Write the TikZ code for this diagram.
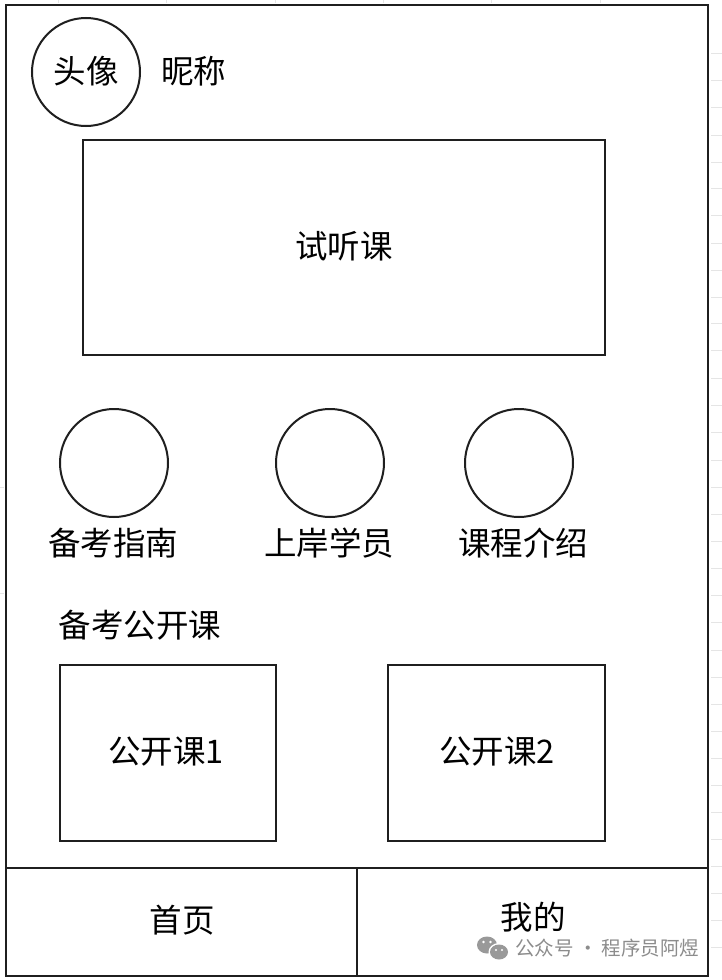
\documentclass[tikz,border=0pt]{standalone}
\usepackage{fontspec}
\setmainfont{Noto Sans CJK SC}
\begin{document}
\begin{tikzpicture}[x=1pt,y=-1pt,
  box/.style={draw=black!88, line width=2pt, inner sep=0pt},
  lbl/.style={font=\fontsize{32.5}{32.5}\selectfont, inner sep=0pt, text=black},
  grid/.style={draw=black!10, line width=0.6pt},
  wm/.style={font=\fontsize{19.5}{19.5}\selectfont, inner sep=0pt, text=black!45}]
\useasboundingbox (0,0) rectangle (722,980);
\fill[white] (0,0) rectangle (722,980);
% faint spreadsheet grid outside the frame
\foreach \y in {53,80,107,135,162,188,215,243,270,297,323,350,378,405,432,460,487,514,541,568,595,622,650,677,704,731,758,785,812,839,866,893,920,947}
  \draw[grid] (711,\y) -- (722,\y);
\foreach \x in {58,166,275,383,491,600}
  \draw[grid] (\x,0) -- (\x,3);
\foreach \y in {487,593}
  \draw[grid] (0,\y) -- (4,\y);
% outer frame
\draw[box] (6,5) rectangle (708,976);
% header
\node[box, circle, minimum size=108] (avatar) at (86,72) {};
\node[lbl] (avatarlbl) at (86,71) {头像};
\node[lbl, anchor=west] (nick) at (161,71) {昵称};
% trial lesson
\node[box, minimum width=522, minimum height=215] (trial) at (344,247.5) {};
\node[lbl] (triallbl) at (344,246) {试听课};
% three circles
\node[box, circle, minimum size=108] (c1) at (114,463) {};
\node[box, circle, minimum size=108] (c2) at (330,463) {};
\node[box, circle, minimum size=108] (c3) at (519,463) {};
\node[lbl] (l1) at (113,543) {备考指南};
\node[lbl] (l2) at (329,543) {上岸学员};
\node[lbl] (l3) at (523,543) {课程介绍};
% public courses
\node[lbl] (pubtitle) at (140,625) {备考公开课};
\node[box, minimum width=216, minimum height=176] (p1) at (168,753) {};
\node[lbl] (p1lbl) at (166,752) {公开课1};
\node[box, minimum width=217, minimum height=176] (p2) at (496.5,753) {};
\node[lbl] (p2lbl) at (497,752) {公开课2};
% bottom bar
\node[box, minimum width=351, minimum height=108] (home) at (181.5,922) {};
\node[box, minimum width=351, minimum height=108] (mine) at (532.5,922) {};
\node[lbl] (homelbl) at (182,920) {首页};
\node[lbl] (minelbl) at (533,917) {我的};
% watermark
\fill[black!40] (487,945) ellipse [x radius=10, y radius=8.5];
\fill[white] (499,952) ellipse [x radius=10.5, y radius=9];
\fill[black!40] (499,952) ellipse [x radius=9, y radius=7.5];
\fill[white] (483.5,942) circle (1.4) (490.5,942) circle (1.4) (496,950) circle (1.2) (502,950) circle (1.2);
\node[wm, anchor=west] (wmtext) at (515,948) {公众号 · 程序员阿煜};
\end{tikzpicture}
\end{document}
